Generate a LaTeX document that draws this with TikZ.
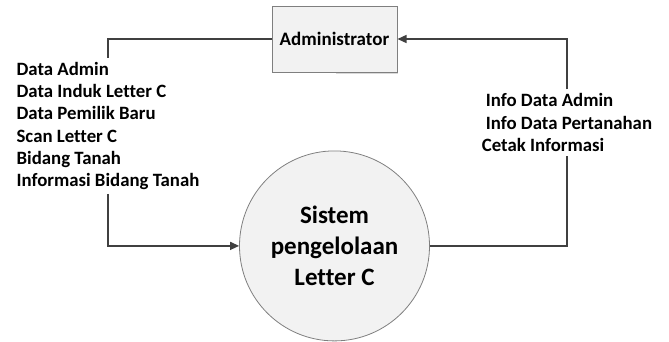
\documentclass[tikz,border=0pt]{standalone}
\usepackage{fontspec}
\setmainfont[Ligatures=NoCommon]{Carlito}
\usetikzlibrary{arrows.meta,positioning}
\definecolor{linegray}{HTML}{404040}
\definecolor{boxfill}{HTML}{F2F2F2}
\definecolor{boxline}{HTML}{7F7F7F}

\begin{document}
\begin{tikzpicture}[x=1pt,y=-1pt,>={Triangle[length=9pt,width=8pt]},font=\bfseries]
  \tikzstyle{entity}=[draw=boxline,fill=boxfill,line width=1pt,minimum width=125pt,minimum height=66pt,font=\bfseries\fontsize{19}{22}\selectfont]
  \tikzstyle{process}=[circle,draw=boxline,fill=boxfill,line width=0.8pt,minimum size=190pt,align=center,font=\bfseries\fontsize{25}{31}\selectfont]
  \tikzstyle{flowlabel}=[align=left,inner sep=4pt,font=\bfseries\fontsize{18.8}{22.2}\selectfont]
  \tikzstyle{flow}=[draw=linegray,line width=1.4pt]
  \useasboundingbox (0,0) rectangle (669,341);
  \fill[gray!30] (336,9) rectangle (398,74);
  \node[entity] (admin) at (334.5,39) {Administrator};
  \node[process,below=78pt of admin] (proc) {Sistem\\pengelolaan\\Letter C};
  \node[flowlabel] (inflow) at (108,126) {Data Admin\\Data Induk Letter C\\Data Pemilik Baru\\Scan Letter C\\Bidang Tanah\\Informasi Bidang Tanah};
  \node[flowlabel] (outflow) at (567,122.5) {\hspace*{4pt}Info Data Admin\\\hspace*{4pt}Info Data Pertanahan\\Cetak Informasi};
  \draw[flow] (admin.west) -| (inflow.north);
  \draw[flow,->] (inflow.south) |- (proc.west);
  \draw[flow] (proc.east) -| (outflow.south);
  \draw[flow,->] (outflow.north) |- (admin.east);
\end{tikzpicture}
\end{document}
